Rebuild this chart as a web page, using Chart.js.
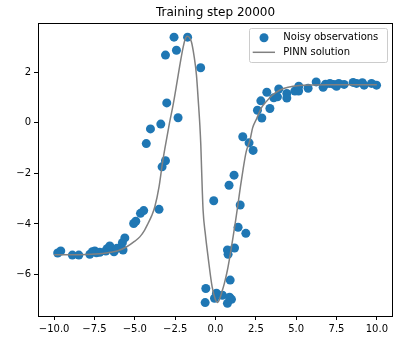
<!DOCTYPE html>
<html>
<head>
<meta charset="utf-8">
<script src="https://cdn.jsdelivr.net/npm/chart.js@4"></script>
<style>
  html, body { margin: 0; padding: 0; background: #fff; }
  #wrap { width: 394px; height: 343px; }
</style>
</head>
<body>
<div id="wrap"><canvas id="plot" width="394" height="343"></canvas></div>
<script>
// noisy samples
var obsX = [-9.78, -9.59, -8.87, -8.47, -7.79, -7.63, -7.48, -7.38, -7.17, -6.80, -6.72, -6.55, -6.29, -6.10, -5.73, -5.77, -5.62,
  -5.07, -4.94, -4.65, -4.45, -3.50, -3.31, -3.10, -4.29, -4.03, -3.39, -3.02, -2.32, -3.10, -2.42, -2.57, -1.73, -0.92,
  1.69, 2.08, 2.33, 1.15, 0.84, -0.11, 1.53, 1.40, 1.88, 0.74, 1.18, 0.78, 0.91, -0.60, -0.64, 0.06, 0.43, -0.06, 0.87, 0.99, 0.74,
  2.60, 2.81, 2.87, 3.18, 3.37, 3.61, 3.84, 3.92, 4.42, 4.42, 4.92, 5.15, 5.16, 5.74, 6.24, 6.67, 6.82, 7.09, 7.33, 7.50, 7.64,
  7.97, 8.53, 8.74, 9.10, 9.21, 9.67, 9.98];
var obsY = [-5.15, -5.07, -5.23, -5.23, -5.20, -5.10, -5.07, -5.14, -5.12, -5.07, -4.98, -4.87, -5.10, -4.96, -5.03, -4.74, -4.55,
  -3.98, -3.89, -3.58, -3.47, -3.42, -1.74, -1.50, -0.82, -0.24, -0.05, 0.79, 0.20, 2.68, 2.87, 3.39, 3.39, 2.18,
  -0.55, -0.79, -1.09, -2.07, -2.47, -3.08, -3.25, -4.13, -4.37, -5.03, -4.95, -5.20, -6.22, -6.55, -7.11, -6.74, -6.82, -6.94, -6.90, -6.98, -7.14,
  0.50, 0.87, 0.19, 1.21, 0.57, 0.99, 1.03, 1.34, 1.16, 0.98, 1.26, 1.26, 1.45, 1.37, 1.62, 1.41, 1.53, 1.56, 1.52, 1.45, 1.56,
  1.52, 1.60, 1.56, 1.59, 1.49, 1.56, 1.49];

// network prediction
var pinnX = [-10, -9, -8, -7, -6.5, -6, -5.5, -5, -4.69, -4.4, -4.18, -3.96, -3.76, -3.5, -3.29, -3.1, -2.85, -2.63, -2.4, -2.21,
  -2.05, -1.9, -1.76, -1.62, -1.49, -1.33, -1.18, -1.07, -0.97, -0.91, -0.86, -0.77, -0.62, -0.46, -0.21, 0, 0.12, 0.25, 0.37,
  0.55, 0.74, 0.92, 1.09, 1.25, 1.4, 1.55, 1.71, 1.9, 2.13, 2.3, 2.54, 2.85, 3.16, 3.5, 4, 4.5, 5.2, 6, 7, 8, 9, 10];
var pinnY = [-5.22, -5.22, -5.21, -5.17, -5.12, -5.05, -4.9, -4.68, -4.51, -4.25, -3.98, -3.68, -3.32, -2.53, -1.6, -0.88, 0.0, 0.7,
  1.55, 2.28, 2.85, 3.27, 3.43, 3.38, 3.2, 2.65, 1.89, 0.9, -0.09, -0.88, -1.87, -3.45, -4.45, -5.3, -6.48, -7.0, -7.11, -6.98, -6.74,
  -6.35, -5.82, -5.18, -4.51, -3.85, -3.19, -2.5, -1.84, -1.15, -0.7, -0.2, 0.15, 0.6, 0.85, 1.08, 1.3, 1.41, 1.48, 1.5, 1.51, 1.51, 1.51, 1.51];

var xTicks = [-10, -7.5, -5, -2.5, 0, 2.5, 5, 7.5, 10];
var yTicks = [-6, -4, -2, 0, 2];

var BLUE = '#1f77b4';
var FONT = 'DejaVu Sans';

function minus(s) { return s.replace('-', '\u2212'); }

// frame, title and legend drawn by hand
var extras = {
  id: 'extras',
  afterDraw: function(chart) {
    var c = chart.ctx, a = chart.chartArea;
    c.save();
    c.strokeStyle = '#000';
    c.lineWidth = 1;
    c.strokeRect(Math.round(a.left) + 0.5, Math.round(a.top) + 0.5, Math.round(a.right - a.left) - 1, Math.round(a.bottom - a.top));

    c.fillStyle = '#000';
    c.font = '12px "' + FONT + '"';
    c.textAlign = 'center';
    c.textBaseline = 'alphabetic';
    c.fillText('Training step 20000', (a.left + a.right) / 2, 16);

    // legend box
    var bx = 249.5, by = 28.5, bw = 138, bh = 34;
    c.fillStyle = 'rgba(255,255,255,0.8)';
    c.strokeStyle = '#cccccc';
    c.beginPath();
    c.roundRect(bx, by, bw, bh, 2);
    c.fill();
    c.stroke();

    c.fillStyle = BLUE;
    c.beginPath();
    c.arc(264, 37.7, 4.5, 0, Math.PI * 2);
    c.fill();

    c.strokeStyle = 'gray';
    c.lineWidth = 1.5;
    c.beginPath();
    c.moveTo(252.7, 52.3);
    c.lineTo(275, 52.3);
    c.stroke();

    c.fillStyle = '#000';
    c.font = '10px "' + FONT + '"';
    c.textAlign = 'left';
    c.textBaseline = 'middle';
    c.fillText('Noisy observations', 283.3, 37.5);
    c.fillText('PINN solution', 283.3, 52);
    c.restore();
  }
};

new Chart(document.getElementById('plot'), {
  type: 'scatter',
  data: {
    datasets: [{
      type: 'line',
      label: 'PINN solution',
      data: pinnX.map(function(x, i) { return { x: x, y: pinnY[i] }; }),
      borderColor: 'gray',
      borderWidth: 1.5,
      pointRadius: 0,
      cubicInterpolationMode: 'monotone',
      fill: false,
      order: 0
    }, {
      label: 'Noisy observations',
      data: obsX.map(function(x, i) { return { x: x, y: obsY[i] }; }),
      backgroundColor: BLUE,
      borderWidth: 0,
      pointRadius: 4.5,
      order: 1
    }]
  },
  options: {
    responsive: false,
    animation: false,
    layout: { autoPadding: false, padding: { top: 23, right: 1, left: 0, bottom: 0 } },
    plugins: { legend: { display: false }, tooltip: { enabled: false } },
    scales: {
      x: {
        type: 'linear',
        min: -11,
        max: 11,
        afterBuildTicks: function(s) { s.ticks = xTicks.map(function(v) { return { value: v }; }); },
        afterFit: function(s) { s.height = 27; s.paddingLeft = 0; s.paddingRight = 0; },
        grid: { drawOnChartArea: false, drawTicks: true, tickLength: 4, color: '#000' },
        border: { display: false },
        ticks: {
          color: '#000',
          padding: 3,
          maxRotation: 0,
          font: { family: FONT, size: 10 },
          callback: function(v) { return minus(v.toFixed(1)); }
        }
      },
      y: {
        type: 'linear',
        min: -7.64,
        max: 3.95,
        afterBuildTicks: function(s) { s.ticks = yTicks.map(function(v) { return { value: v }; }); },
        afterFit: function(s) { s.width = 38; s.paddingTop = 0; s.paddingBottom = 0; },
        grid: { drawOnChartArea: false, drawTicks: true, tickLength: 4, color: '#000' },
        border: { display: false },
        ticks: {
          color: '#000',
          padding: 3,
          font: { family: FONT, size: 10 },
          callback: function(v) { return minus(String(v)); }
        }
      }
    }
  },
  plugins: [extras]
});
</script>
</body>
</html>
